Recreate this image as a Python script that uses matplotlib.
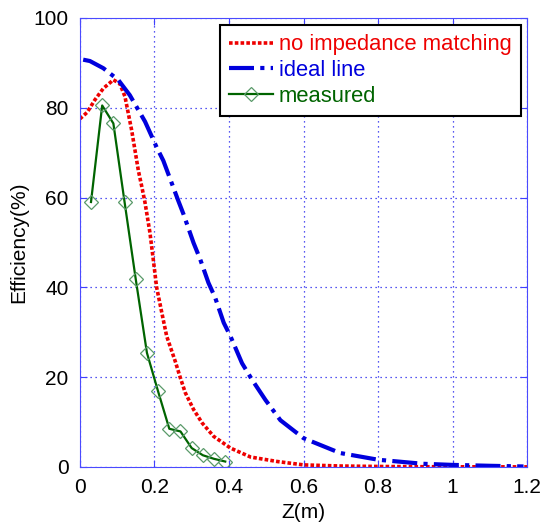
import numpy as np
import matplotlib.pyplot as plt

plt.rcParams['font.family'] = ['Liberation Sans', 'DejaVu Sans']

# courbe sans adaptation d'impedance
z_sans = [0.0, 0.02, 0.04, 0.063, 0.09, 0.107, 0.121, 0.139, 0.157, 0.166, 0.175, 0.188,
          0.197, 0.206, 0.22, 0.233, 0.256, 0.269, 0.283, 0.305, 0.328, 0.359, 0.404,
          0.458, 0.53, 0.6, 0.7, 0.8, 0.9, 1.0, 1.1, 1.2]
eff_sans = [77.5, 79.0, 81.7, 84.3, 86.2, 85.4, 82.5, 75.0, 66.0, 62.5, 58.8, 52.2,
            46.2, 40.0, 34.3, 29.1, 23.5, 20.0, 16.5, 12.8, 9.8, 6.8, 4.2,
            2.2, 1.2, 0.45, 0.2, 0.1, 0.05, 0.03, 0.02, 0.01]

# ligne ideale
z_ideal = [0.009, 0.027, 0.063, 0.103, 0.134, 0.175, 0.206, 0.224, 0.264, 0.278, 0.305,
           0.323, 0.345, 0.363, 0.386, 0.404, 0.435, 0.462, 0.498, 0.538, 0.6, 0.698,
           0.8, 0.92, 1.0, 1.1, 1.19]
eff_ideal = [90.7, 90.4, 88.8, 86.2, 82.8, 76.9, 71.2, 68.2, 59.3, 56.3, 49.9,
             46.2, 41.0, 37.7, 32.1, 29.1, 23.1, 19.4, 14.9, 10.4, 6.4, 3.1,
             1.6, 0.7, 0.45, 0.25, 0.1]

# points mesures
z_mes = [0.03, 0.06, 0.09, 0.12, 0.15, 0.18, 0.21, 0.24, 0.27, 0.30, 0.33, 0.36, 0.39]
eff_mes = [59.0, 80.5, 76.5, 59.0, 41.8, 25.4, 16.8, 8.5, 7.9, 4.2, 2.6, 1.8, 1.2]

fig = plt.figure(figsize=(5.43, 5.27), dpi=100)
ax = fig.add_axes([0.147, 0.114, 0.824, 0.852])

ax.plot(z_sans, eff_sans, color='#ee0000', linestyle=(0, (1, 0.6)), linewidth=2.6,
        label='no impedance matching')
ax.plot(z_ideal, eff_ideal, color='#0000dd', linestyle=(0, (6, 1.5, 1, 1.5)), linewidth=3,
        label='ideal line')
ax.plot(z_mes, eff_mes, color='#006400', linewidth=1.6, marker='D', markersize=7,
        markerfacecolor='none', markeredgecolor='#5a9a6a', markeredgewidth=0.9,
        label='measured')

ax.set_xlim(0, 1.2)
ax.set_ylim(0, 100)
ax.set_xticks([0, 0.2, 0.4, 0.6, 0.8, 1.0, 1.2])
ax.set_xticklabels(['0', '0.2', '0.4', '0.6', '0.8', '1', '1.2'])
ax.set_yticks([0, 20, 40, 60, 80, 100])
ax.grid(True, color='#2020ee', linestyle=(0, (1, 3)), linewidth=0.9)
ax.tick_params(direction='in', colors='#4040ff', labelcolor='black', labelsize=15,
               length=5, top=True, right=True, pad=8)
for s in ax.spines.values():
    s.set_color('#4a4aff')

ax.set_xlabel('Z(m)', fontsize=15, labelpad=4)
ax.set_ylabel('Efficiency(%)', fontsize=15, labelpad=4)

leg = ax.legend(loc='upper right', fontsize=15.8, handlelength=2.0, handletextpad=0.25,
                labelspacing=0.22, borderpad=0.42, borderaxespad=0, fancybox=False,
                framealpha=1, bbox_to_anchor=(0.985, 0.984))
leg.get_frame().set_edgecolor('black')
leg.get_frame().set_linewidth(1.5)
for t, c in zip(leg.get_texts(), ['#ee0000', '#0000dd', '#006400']):
    t.set_color(c)

fig.savefig('out.png', dpi=100)
